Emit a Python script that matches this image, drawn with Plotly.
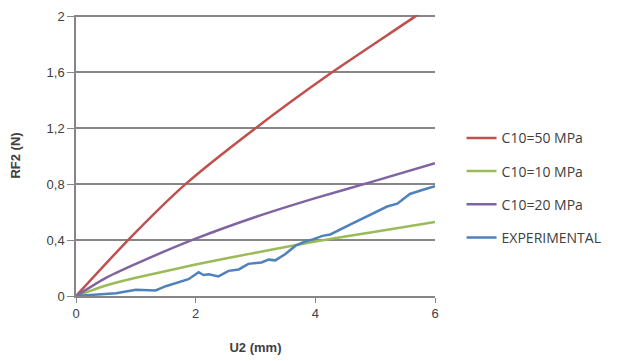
import plotly.graph_objects as go

# ---- data ----
x_c50 = [0, 0.87, 1.83, 3.0, 4.28, 5.67, 6.0]
y_c50 = [0, 0.40, 0.80, 1.20, 1.60, 2.00, 2.10]

x_c10 = [0, 0.5, 1, 2, 3, 4, 5, 6]
y_c10 = [0, 0.075, 0.13, 0.225, 0.31, 0.39, 0.46, 0.53]

x_c20 = [0, 0.5, 1, 2, 3, 4, 4.97, 6]
y_c20 = [0, 0.13, 0.23, 0.41, 0.565, 0.70, 0.82, 0.95]

x_exp = [0, 0.33, 0.67, 1.0, 1.33, 1.5, 1.67, 1.88, 2.05, 2.13, 2.22, 2.38,
         2.55, 2.72, 2.88, 3.1, 3.22, 3.33, 3.5, 3.67, 3.83, 3.92, 4.12,
         4.25, 4.58, 4.92, 5.2, 5.37, 5.58, 5.8, 6.0]
y_exp = [0, 0.01, 0.02, 0.045, 0.04, 0.07, 0.09, 0.12, 0.17, 0.15, 0.155, 0.14,
         0.18, 0.19, 0.23, 0.24, 0.26, 0.255, 0.30, 0.36, 0.39, 0.40, 0.43,
         0.44, 0.51, 0.58, 0.64, 0.66, 0.73, 0.76, 0.785]

y_ticks = [0, 0.4, 0.8, 1.2, 1.6, 2.0]
y_tick_labels = ["0", "0,4", "0,8", "1,2", "1,6", "2"]
x_ticks = [0, 2, 4, 6]
x_tick_labels = ["0", "2", "4", "6"]

series = [
    ("C10=50 MPa", x_c50, y_c50, "#C0504D"),
    ("C10=10 MPa", x_c10, y_c10, "#9BBB59"),
    ("C10=20 MPa", x_c20, y_c20, "#8064A2"),
    ("EXPERIMENTAL", x_exp, y_exp, "#4F81BD"),
]

fig = go.Figure()
for i, (name, xs, ys, col) in enumerate(series):
    fig.add_trace(go.Scatter(
        x=xs, y=ys, mode="lines", name=name,
        line=dict(color=col, width=2.5, shape="spline" if i < 3 else "linear", smoothing=0.6),
        legendgroup=f"g{i}", cliponaxis=True,
    ))

font_family = "Liberation Sans, Arial, sans-serif"
fig.update_layout(
    width=625, height=361,
    margin=dict(l=68, r=198, t=7, b=73),
    paper_bgcolor="white", plot_bgcolor="white",
    font=dict(family=font_family, size=13, color="#404040"),
    showlegend=True,
    legend=dict(
        x=1.074, y=0.385, xanchor="left", yanchor="middle",
        traceorder="grouped", tracegroupgap=12,
        font=dict(family="Open Sans, sans-serif", size=14, color="#404040"),
        bgcolor="rgba(0,0,0,0)",
    ),
    xaxis=dict(
        range=[0, 6], tickvals=x_ticks, ticktext=x_tick_labels,
        showgrid=False, zeroline=False, automargin=False,
        showline=True, linecolor="#868686", linewidth=1.5,
        ticks="outside", ticklen=5, tickcolor="#868686",
        tickfont=dict(size=13, color="#404040"),
        title=dict(text="<b>U2 (mm)</b>", font=dict(size=13, color="#404040"), standoff=23),
    ),
    yaxis=dict(
        range=[0, 2.01], tickvals=y_ticks, ticktext=y_tick_labels,
        showgrid=True, gridcolor="#868686", gridwidth=1.5,
        zeroline=False, automargin=False,
        showline=True, linecolor="#868686", linewidth=1.5,
        ticks="outside", ticklen=7, tickcolor="#868686",
        tickfont=dict(size=13, color="#404040"),
        title=dict(text="<b>RF2 (N)</b>", font=dict(size=13, color="#404040"), standoff=24),
    ),
)

fig.write_html("out.html")
